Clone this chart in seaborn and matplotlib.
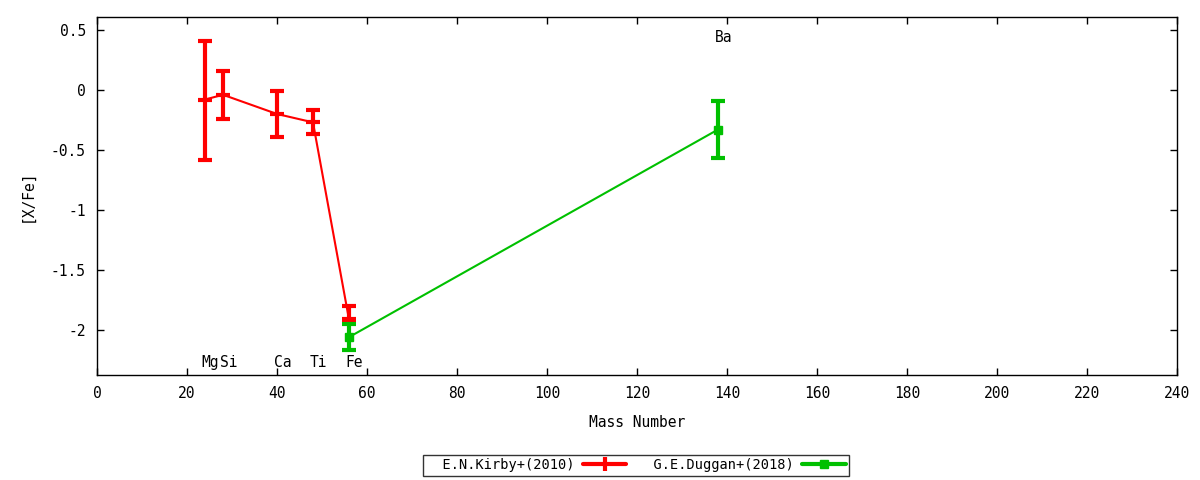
import numpy as np
import pandas as pd
import seaborn as sns
import matplotlib
matplotlib.use('Agg')
import matplotlib.pyplot as plt

# E.N.Kirby+(2010)
kirby_el = ['Mg', 'Si', 'Ca', 'Ti', 'Fe']
kirby_mass = [24, 28, 40, 48, 56]
kirby_xfe = [-0.08, -0.04, -0.20, -0.27, -1.91]
kirby_err_lo = [0.50, 0.20, 0.19, 0.10, 0.02]
kirby_err_hi = [0.49, 0.20, 0.19, 0.10, 0.11]

# G.E.Duggan+(2018)
duggan_el = ['Fe', 'Ba']
duggan_mass = [56, 138]
duggan_xfe = [-2.06, -0.33]
duggan_err = [0.11, 0.24]

# element label positions
label_el = ['Mg', 'Si', 'Ca', 'Ti', 'Fe', 'Ba']
label_x = [23.3, 27.3, 39.3, 47.3, 55.3, 137.3]
label_y = [-2.27, -2.27, -2.27, -2.27, -2.27, 0.44]

sns.set_style('ticks')
plt.rcParams['font.family'] = ['DejaVu Sans Mono', 'DejaVu Sans']
plt.rcParams['text.color'] = 'black'
plt.rcParams['axes.labelcolor'] = 'black'
plt.rcParams['xtick.color'] = 'black'
plt.rcParams['ytick.color'] = 'black'
plt.rcParams['xtick.direction'] = 'in'
plt.rcParams['ytick.direction'] = 'in'

fig = plt.figure(figsize=(12, 4.8), dpi=100)
ax = fig.add_axes([0.0808, 0.2188, 0.9, 0.7458])

kirby = pd.DataFrame({'mass': kirby_mass, 'xfe': kirby_xfe})
duggan = pd.DataFrame({'mass': duggan_mass, 'xfe': duggan_xfe})

sns.lineplot(data=kirby, x='mass', y='xfe', color='#ff0000', lw=1.5, ax=ax,
             legend=False)
sns.lineplot(data=duggan, x='mass', y='xfe', color='#00c000', lw=1.5, ax=ax,
             legend=False)

ax.errorbar(kirby_mass, kirby_xfe, yerr=[kirby_err_lo, kirby_err_hi],
            fmt='none', ecolor='#ff0000', elinewidth=3, capsize=5, capthick=3)
ax.errorbar(duggan_mass, duggan_xfe, yerr=duggan_err, fmt='none',
            ecolor='#00c000', elinewidth=3, capsize=5, capthick=3)
ax.plot(kirby_mass, kirby_xfe, ls='none', marker='_', ms=10, mew=3,
        color='#ff0000')
ax.plot(duggan_mass, duggan_xfe, ls='none', marker='s', ms=6,
        color='#00c000')

for el, x, y in zip(label_el, label_x, label_y):
    ax.text(x, y, el, fontsize=10.5, ha='left', va='center', color='black')

ax.set_xlim(0, 240)
ax.set_ylim(-2.375, 0.608)
ax.set_xticks(np.arange(0, 241, 20))
ax.set_yticks([0.5, 0, -0.5, -1, -1.5, -2])
ax.set_yticklabels(['0.5', '0', '-0.5', '-1', '-1.5', '-2'])
ax.tick_params(axis='both', labelsize=10.5, length=5, width=1,
               top=True, right=True, pad=8)
for s in ax.spines.values():
    s.set_linewidth(1)
    s.set_color('black')
ax.set_xlabel('Mass Number', fontsize=10.5, labelpad=10)
ax.set_ylabel('[X/Fe]', fontsize=10.5, labelpad=12)

# legend samples: line with caps and a marker in the middle
l1 = plt.Line2D([], [], color='#ff0000', lw=3, marker='|', ms=10, mew=3)
l2 = plt.Line2D([], [], color='#00c000', lw=3, marker='s', ms=6)
leg = fig.legend([l1, l2], ['  E.N.Kirby+(2010)', '  G.E.Duggan+(2018)'],
                 loc='center', bbox_to_anchor=(0.53, 0.031), ncol=2,
                 markerfirst=False, fontsize=9.8, frameon=True, fancybox=False,
                 edgecolor='black', handlelength=3.2, handletextpad=0.6,
                 columnspacing=0.8, borderpad=0.25, borderaxespad=0)
leg.get_frame().set_linewidth(1)

fig.savefig('out.png', dpi=100)
